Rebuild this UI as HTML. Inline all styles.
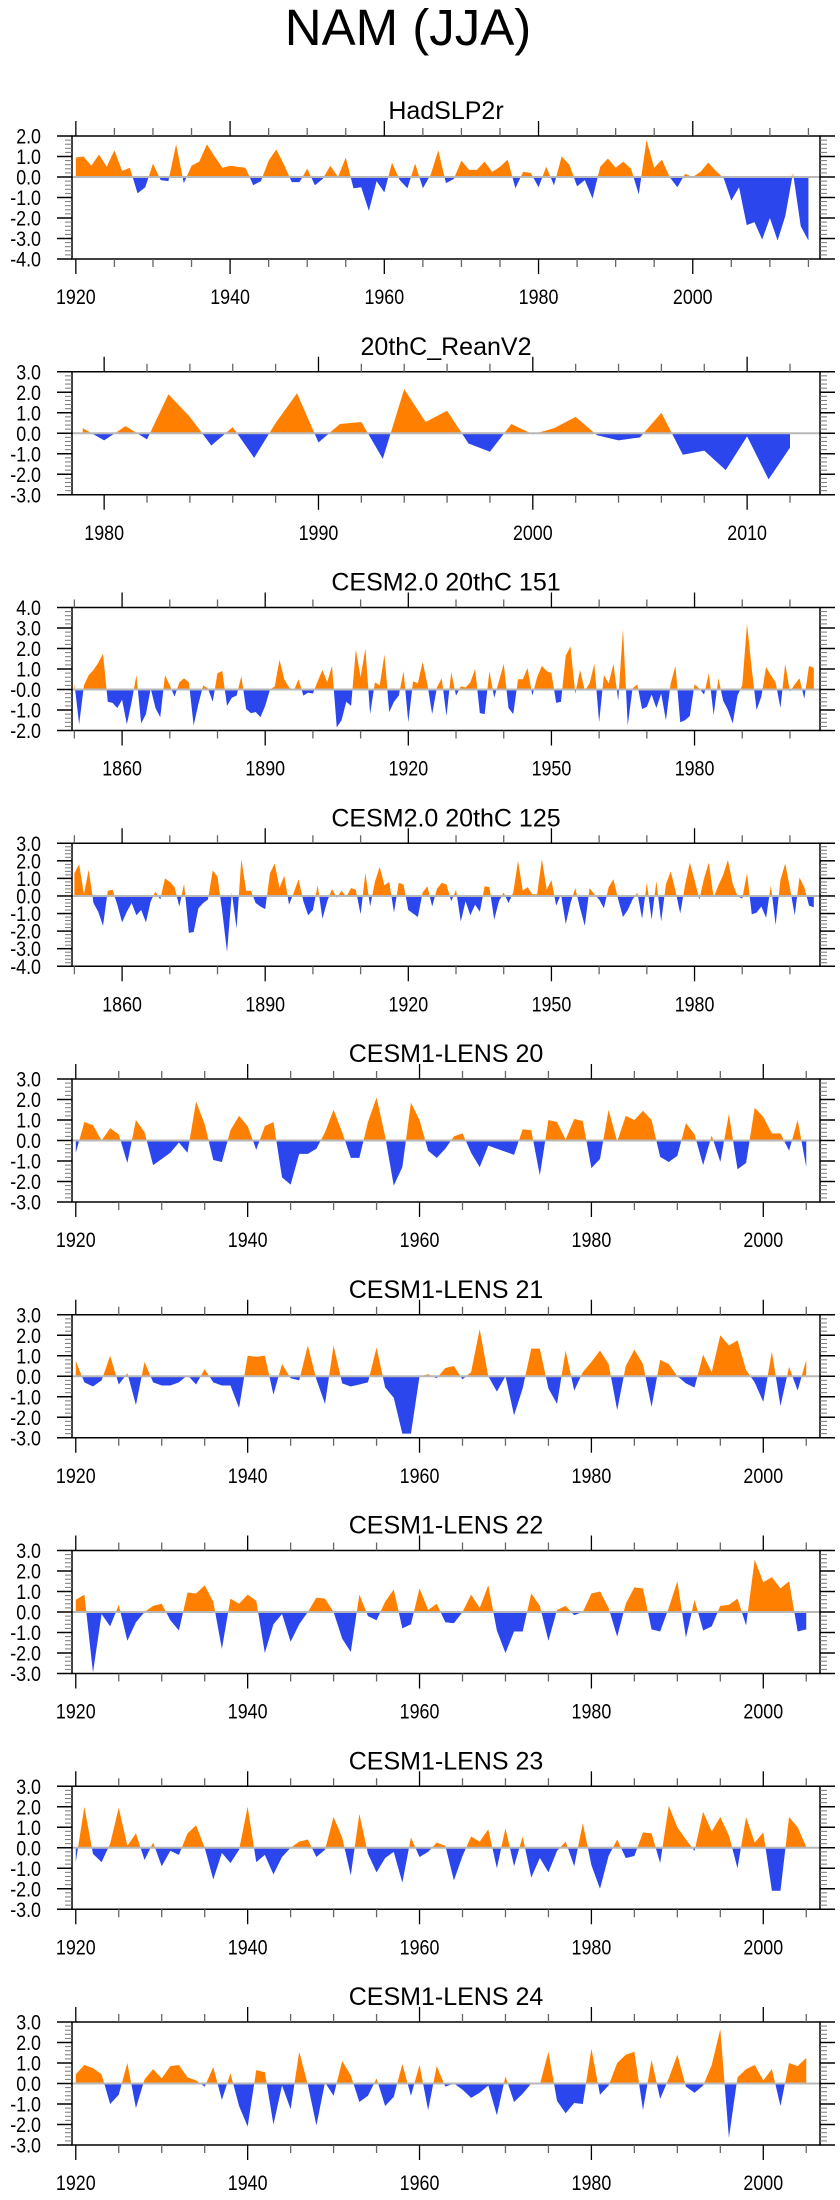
<!DOCTYPE html>
<html><head><meta charset="utf-8"><style>
html,body{margin:0;padding:0;background:#fff;}
svg{display:block;font-family:"Liberation Sans",Arial,sans-serif;}
</style></head><body>
<svg id="fig" width="840" height="2200" viewBox="0 0 840 2200" xmlns="http://www.w3.org/2000/svg">
<text x="408" y="45" font-size="51" text-anchor="middle" fill="#000">NAM (JJA)</text>
</svg>
<script>
// ---- data (JJA NAM index per year) ----
const hadslpStart = 1920;
const hadslpValues = [0.95,1.0,0.55,1.1,0.5,1.3,0.3,0.45,-0.8,-0.5,
0.65,-0.15,-0.2,1.6,-0.3,0.55,0.75,1.6,1.0,0.45,
0.55,0.5,0.45,-0.4,-0.2,0.8,1.35,0.6,-0.25,-0.25,
0.4,-0.4,-0.1,0.55,0.0,0.95,-0.55,-0.5,-1.65,-0.2,
-0.75,0.7,-0.15,-0.55,0.65,-0.55,0.1,1.3,-0.3,-0.1,
0.8,0.35,0.35,0.75,0.25,0.5,0.85,-0.55,0.25,0.2,
-0.5,0.5,-0.4,1.0,0.6,-0.45,-0.15,-1.05,0.5,0.9,
0.45,0.75,0.4,-0.85,1.8,0.45,0.85,0.0,-0.5,0.15,
0.0,0.25,0.7,0.3,-0.05,-1.15,-0.5,-2.35,-2.2,-3.05,
-2.0,-3.1,-1.9,0.2,-2.4,-3.1];
const reanStart = 1979;
const reanValues = [0.25,-0.35,0.35,-0.3,1.9,0.8,-0.6,0.3,-1.2,0.5,
1.95,-0.45,0.45,0.55,-1.25,2.15,0.55,1.1,-0.5,-0.9,
0.45,-0.05,0.25,0.8,-0.1,-0.35,-0.2,1.0,-1.05,-0.85,
-1.8,-0.15,-2.25,-0.7];
const cesm151Start = 1850;
const cesm151Values = [0.3,-1.7,0.2,0.7,0.95,1.3,1.75,-0.6,-0.65,-0.9,
-0.5,-1.7,-0.6,0.7,-1.65,-1.2,0.05,-0.9,-1.35,0.7,
0.2,-0.35,0.35,0.55,0.35,-1.75,-0.7,0.2,0.05,-0.6,
0.8,0.9,-0.8,-0.4,-0.3,0.65,-0.95,-1.15,-1.1,-1.35,
-0.8,0.0,0.15,1.45,0.5,0.1,-0.05,0.5,-0.3,-0.15,
-0.2,0.4,0.95,0.35,1.15,-1.85,-1.5,-0.6,-0.8,1.95,
0.6,2.0,-1.2,0.35,0.2,1.7,-1.1,-0.6,-0.3,0.9,
-1.6,0.4,0.3,1.35,0.25,-1.2,0.1,0.55,-1.3,0.85,
-0.3,0.15,0.1,0.35,1.0,-1.15,-1.2,0.9,-0.4,0.4,
1.25,-0.9,-1.2,0.5,0.5,1.05,-0.3,0.6,1.15,0.9,
0.8,-0.65,-0.6,1.65,2.1,-0.2,0.95,-0.05,0.3,1.25,
-1.6,0.7,0.3,1.25,-0.55,2.95,-1.75,0.05,0.25,-0.95,
-0.85,-0.25,-0.9,-0.2,-1.5,0.3,1.15,-1.6,-1.5,-1.3,
0.25,0.05,-0.25,0.8,-1.25,0.55,-0.55,-1.0,-1.65,-0.3,
0.2,3.2,1.0,-1.0,-0.35,1.1,0.7,0.35,-0.9,1.25,
-0.1,0.25,0.55,-0.45,1.15,1.05];
const cesm125Start = 1850;
const cesm125Values = [1.3,1.8,0.1,1.5,-0.4,-0.9,-1.7,0.3,0.35,-0.5,
-1.5,-0.9,-0.4,-1.1,-0.8,-1.5,-0.3,0.25,-0.2,1.0,
0.8,0.5,-0.6,0.7,-2.1,-2.05,-0.7,-0.4,-0.2,1.45,
1.1,-0.9,-3.2,0.2,-1.85,2.1,0.3,0.3,-0.4,-0.6,
-0.75,1.3,1.85,0.45,1.15,-0.5,0.2,0.95,-0.3,-1.1,
-0.8,0.6,-1.3,-0.3,0.4,-0.1,0.3,-0.05,0.45,0.35,
-1.05,1.3,-0.6,0.8,1.65,0.6,0.8,-0.95,0.75,0.65,
-0.8,-1.0,-1.2,0.2,0.55,-0.6,0.4,0.75,0.65,-0.3,
0.35,-1.45,-0.3,-1.1,-0.5,-0.9,0.55,0.5,-1.35,-0.3,
0.2,-0.4,0.2,2.0,0.3,0.5,0.1,0.1,2.1,0.35,
0.9,-0.55,0.1,-1.6,-0.4,0.45,-0.7,-1.7,0.45,0.1,
-0.2,-0.7,0.5,0.95,-0.2,-1.2,-0.8,-0.2,0.2,-1.3,
0.75,-1.35,0.85,-1.45,0.65,1.4,0.3,-1.0,0.6,1.9,
0.9,-0.2,1.0,1.9,-0.1,0.6,1.2,2.05,0.7,0.0,
-0.15,1.3,-1.05,-0.95,-0.6,-1.25,0.6,-1.65,0.9,1.85,
0.45,-1.1,1.05,0.5,-0.55,-0.65];
const lens20Start = 1920;
const lens20Values = [-0.6,0.9,0.75,0.0,0.6,0.3,-1.1,1.0,0.4,-1.2,
-0.9,-0.6,-0.1,-0.6,1.9,0.8,-0.95,-1.05,0.5,1.2,
0.7,-0.45,0.7,0.9,-1.8,-2.15,-0.65,-0.65,-0.4,0.4,
1.5,0.4,-0.85,-0.85,0.9,2.1,0.2,-2.2,-1.3,1.85,
1.0,-0.5,-0.85,-0.4,0.2,0.35,-0.6,-1.3,-0.25,-0.4,
-0.55,-0.7,0.55,0.5,-1.7,1.0,0.9,0.05,1.05,0.95,
-1.35,-0.9,1.5,-0.05,1.2,1.0,1.45,1.0,-0.8,-1.05,
-0.75,0.85,0.3,-1.2,0.25,-1.05,1.3,-1.4,-1.1,1.6,
1.15,0.35,0.35,-0.5,1.0,-1.3];
const lens21Start = 1920;
const lens21Values = [0.75,-0.3,-0.5,-0.2,1.0,-0.4,0.15,-1.4,0.7,-0.3,
-0.45,-0.45,-0.3,0.05,-0.4,0.35,-0.3,-0.45,-0.45,-1.55,
1.0,0.95,1.0,-0.9,0.6,-0.1,-0.2,1.5,-0.15,-1.35,
1.5,-0.35,-0.5,-0.4,-0.3,1.4,-0.55,-1.05,-2.8,-2.8,
0.0,0.1,-0.1,0.4,0.5,-0.15,0.2,2.3,0.0,-0.75,
0.0,-1.9,-0.6,1.35,1.35,-0.6,-1.35,1.25,-0.7,0.2,
0.7,1.25,0.6,-1.65,0.5,1.3,0.6,-1.5,0.8,0.6,
0.0,-0.35,-0.55,1.05,0.2,2.0,1.5,1.75,0.3,-0.3,
-1.25,1.2,-1.45,0.45,-0.7,0.8];
const lens22Start = 1920;
const lens22Values = [0.6,0.85,-2.95,-0.1,-0.7,0.35,-1.4,-0.5,0.0,0.3,
0.4,-0.4,-0.9,0.95,0.9,1.3,0.5,-1.8,0.65,0.4,
0.85,0.55,-2.0,-0.6,-0.1,-1.45,-0.6,0.0,0.7,0.65,
0.0,-1.3,-1.95,0.85,-0.2,-0.4,0.5,1.1,-0.8,-0.6,
1.15,0.1,0.4,-0.5,-0.55,0.0,0.85,0.2,1.3,-0.9,
-2.0,-0.95,-0.95,0.9,0.3,-1.4,0.1,0.3,-0.15,0.0,
0.9,1.0,0.2,-1.2,0.4,1.2,1.15,-0.85,-0.95,0.2,
1.5,-1.25,0.6,-0.9,-0.7,0.3,0.35,0.65,-0.65,2.55,
1.45,1.7,1.15,1.5,-0.95,-0.85];
const lens23Start = 1920;
const lens23Values = [-0.7,2.0,-0.3,-0.7,0.2,1.95,0.1,0.7,-0.6,0.25,
-0.9,-0.15,-0.35,0.7,1.1,0.0,-1.55,-0.25,-0.75,-0.1,
2.0,-0.7,-0.35,-1.3,-0.45,0.0,0.3,0.4,-0.45,-0.1,
1.5,0.5,-1.35,1.65,-0.3,-1.2,-0.5,-0.2,-1.7,0.5,
-0.45,-0.2,0.25,0.1,-1.6,-0.4,0.55,0.3,0.9,-1.0,
0.95,-0.9,0.55,-1.45,-0.5,-1.2,-0.15,0.3,-0.9,1.2,
-0.85,-2.0,-0.4,0.4,-0.5,-0.4,0.75,0.7,-0.75,2.05,
1.0,0.4,-0.15,1.75,0.8,1.5,0.6,-1.0,1.5,0.25,
0.75,-2.1,-2.1,1.5,1.0,0.05];
const lens24Start = 1920;
const lens24Values = [0.45,0.9,0.75,0.45,-1.0,-0.55,1.0,-1.2,0.2,0.7,
0.25,0.85,0.9,0.3,0.15,-0.15,0.8,-0.8,0.5,-1.1,
-2.1,0.65,0.55,-2.0,-0.1,-1.25,1.55,-0.05,-2.05,0.05,
-0.6,1.1,0.4,-0.9,-0.6,0.25,-1.1,-0.65,0.95,-0.6,
0.9,-1.3,0.85,-0.15,0.0,-0.3,-0.7,-0.45,-0.1,-1.55,
0.35,-0.9,-0.5,0.0,-0.05,1.55,-0.85,-1.45,-0.95,-1.0,
1.7,-0.55,-0.1,1.0,1.4,1.55,-1.3,1.15,-0.75,0.25,
1.4,-0.15,-0.45,-0.1,0.9,2.65,-2.65,0.3,0.7,0.9,
0.15,0.7,-1.1,1.0,0.85,1.25];
const panelTitles = ["HadSLP2r","20thC_ReanV2","CESM2.0 20thC 151","CESM2.0 20thC 125","CESM1-LENS 20","CESM1-LENS 21","CESM1-LENS 22","CESM1-LENS 23","CESM1-LENS 24"];
const panelNames = ["hadslp2r","20thc-reanv2","cesm2-151","cesm2-125","lens-20","lens-21","lens-22","lens-23","lens-24"];

const panels = [
 {start:hadslpStart, vals:hadslpValues, x0:1919.5, x1:2016.5, y0:-4, y1:2, major:20, minor:5, majorFrom:1920},
 {start:reanStart, vals:reanValues, x0:1978.5, x1:2013.4, y0:-3, y1:3, major:10, minor:2, majorFrom:1980},
 {start:cesm151Start, vals:cesm151Values, x0:1849.5, x1:2006.3, y0:-2, y1:4, major:30, minor:10, majorFrom:1860},
 {start:cesm125Start, vals:cesm125Values, x0:1849.5, x1:2006.3, y0:-4, y1:3, major:30, minor:10, majorFrom:1860},
 {start:lens20Start, vals:lens20Values, x0:1919.56, x1:2006.6, y0:-3, y1:3, major:20, minor:5, majorFrom:1920},
 {start:lens21Start, vals:lens21Values, x0:1919.56, x1:2006.6, y0:-3, y1:3, major:20, minor:5, majorFrom:1920},
 {start:lens22Start, vals:lens22Values, x0:1919.56, x1:2006.6, y0:-3, y1:3, major:20, minor:5, majorFrom:1920},
 {start:lens23Start, vals:lens23Values, x0:1919.56, x1:2006.6, y0:-3, y1:3, major:20, minor:5, majorFrom:1920},
 {start:lens24Start, vals:lens24Values, x0:1919.56, x1:2006.6, y0:-3, y1:3, major:20, minor:5, majorFrom:1920}
];

const NS = "http://www.w3.org/2000/svg";
const svg = document.getElementById('fig');
function mk(tag, attrs, parent){
  const e = document.createElementNS(NS, tag);
  for (const k in attrs) e.setAttribute(k, attrs[k]);
  (parent||svg).appendChild(e);
  return e;
}
function narrow(t, f){
  try {
    const w = t.getComputedTextLength();
    if (w > 0) { t.setAttribute('textLength', (w * f).toFixed(1)); t.setAttribute('lengthAdjust', 'spacingAndGlyphs'); }
  } catch (e) {}
}
const BL = 72, BR = 820, BH = 123;

panels.forEach((p, i) => {
  const T = 136 + 235.75 * i;
  const B = T + BH;
  const xs = v => BL + (v - p.x0) / (p.x1 - p.x0) * (BR - BL);
  const ys = v => B - (v - p.y0) / (p.y1 - p.y0) * BH;
  const g = mk('g', {});
  
  

  const title = mk('text', {x: (BL+BR)/2, y: T - 17, 'font-size': 25, 'text-anchor': 'middle', fill: '#000'}, g);
  
  
  title.textContent = panelTitles[i];

  const y0 = ys(0);
  const cid = 'c' + i;
  const defs = mk('defs', {}, g);
  const cp1 = mk('clipPath', {id: cid + 'a'}, defs);
  mk('rect', {x: BL, y: T, width: BR-BL, height: y0 - T}, cp1);
  const cp2 = mk('clipPath', {id: cid + 'b'}, defs);
  mk('rect', {x: BL, y: y0, width: BR-BL, height: B - y0}, cp2);

  let pts = p.vals.map((v, k) => xs(p.start + k).toFixed(2) + ',' + ys(v).toFixed(2));
  const xa = xs(p.start), xb = xs(p.start + p.vals.length - 1);
  const poly = pts.join(' ') + ' ' + xb.toFixed(2) + ',' + y0 + ' ' + xa.toFixed(2) + ',' + y0;
  const pos = mk('polygon', {points: poly, fill: '#ff8000', 'clip-path': 'url(#' + cid + 'a)'}, g);
  
  
  const neg = mk('polygon', {points: poly, fill: '#2a46ec', 'clip-path': 'url(#' + cid + 'b)'}, g);
  
  

  const zl = mk('line', {x1: BL, x2: BR, y1: y0, y2: y0, stroke: '#b8b8b8', 'stroke-width': 2}, g);
  
  

  const box = mk('rect', {x: BL, y: T, width: BR-BL, height: BH, fill: 'none', stroke: '#000', 'stroke-width': 1.5}, g);
  
  

  // y ticks
  for (let v = p.y0; v <= p.y1 + 1e-6; v += 0.2) {
    const r = Math.round(v * 5);
    const isMajor = r % 5 === 0;
    const yy = ys(v);
    const len = isMajor ? 15 : 7;
    mk('line', {x1: BL - len, x2: BL, y1: yy, y2: yy, stroke: isMajor ? '#000' : '#777', 'stroke-width': isMajor ? 1.5 : 1}, g);
    mk('line', {x1: BR, x2: BR + len, y1: yy, y2: yy, stroke: isMajor ? '#000' : '#777', 'stroke-width': isMajor ? 1.5 : 1}, g);
    if (isMajor) {
      const lab = mk('text', {x: 41, y: yy + 7.5, 'font-size': 21, 'text-anchor': 'end', fill: '#000'}, g);
      
      
      lab.textContent = (v).toFixed(1);
      narrow(lab, 0.85);
    }
  }
  // x ticks
  const firstMinor = Math.ceil(p.x0 / p.minor) * p.minor;
  for (let yr = firstMinor; yr <= p.x1; yr += p.minor) {
    const isMajor = ((yr - p.majorFrom) % p.major + p.major) % p.major === 0;
    const xx = xs(yr);
    const len = isMajor ? 15 : 8;
    mk('line', {x1: xx, x2: xx, y1: T - len, y2: T, stroke: isMajor ? '#000' : '#666', 'stroke-width': 1.3}, g);
    mk('line', {x1: xx, x2: xx, y1: B, y2: B + len, stroke: isMajor ? '#000' : '#666', 'stroke-width': 1.3}, g);
    if (isMajor) {
      const lab = mk('text', {x: xx, y: B + 45, 'font-size': 21, 'text-anchor': 'middle', fill: '#000'}, g);
      
      
      lab.textContent = yr;
      narrow(lab, 0.85);
    }
  }
});
</script>
</body></html>
